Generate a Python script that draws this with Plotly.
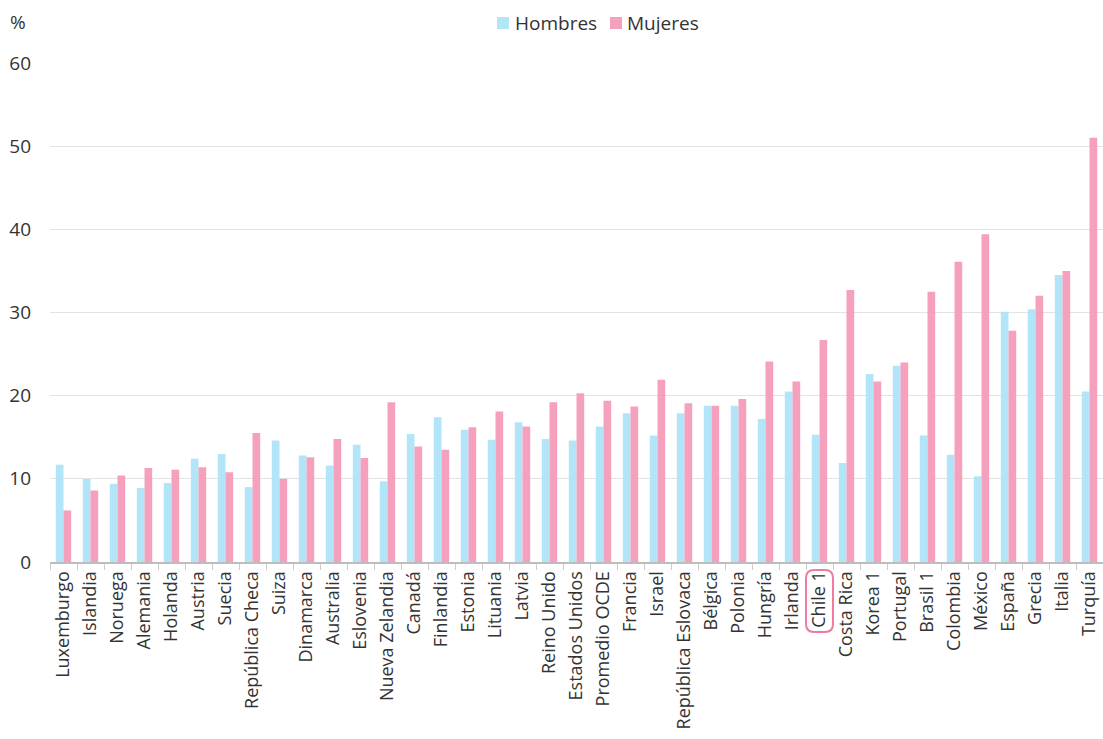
import plotly.graph_objects as go

# Categories along the x axis
countries = [
    "Luxemburgo", "Islandia", "Noruega", "Alemania", "Holanda", "Austria",
    "Suecia", "República Checa", "Suiza", "Dinamarca", "Australia",
    "Eslovenia", "Nueva Zelandia", "Canadá", "Finlandia", "Estonia",
    "Lituania", "Latvia", "Reino Unido", "Estados Unidos", "Promedio OCDE",
    "Francia", "Israel", "República Eslovaca", "Bélgica", "Polonia",
    "Hungría", "Irlanda", "Chile 1", "Costa Rica", "Korea 1", "Portugal",
    "Brasil 1", "Colombia", "México", "España", "Grecia", "Italia", "Turquía",
]

# Percentages per sex
hombres = [
    11.7, 10.0, 9.4, 8.9, 9.5, 12.4, 13.0, 9.0, 14.6, 12.8, 11.6, 14.1, 9.7,
    15.4, 17.4, 15.9, 14.7, 16.8, 14.8, 14.6, 16.3, 17.9, 15.2, 17.9, 18.8,
    18.8, 17.2, 20.5, 15.3, 11.9, 22.6, 23.6, 15.2, 12.9, 10.3, 30.1, 30.4,
    34.5, 20.5,
]
mujeres = [
    6.2, 8.6, 10.4, 11.3, 11.1, 11.4, 10.8, 15.5, 10.0, 12.6, 14.8, 12.5, 19.2,
    13.9, 13.5, 16.2, 18.1, 16.3, 19.2, 20.3, 19.4, 18.7, 21.9, 19.1, 18.8,
    19.6, 24.1, 21.7, 26.7, 32.7, 21.7, 24.0, 32.5, 36.1, 39.4, 27.8, 32.0,
    35.0, 51.0,
]

y_ticks = [0, 10, 20, 30, 40, 50, 60]
highlight = "Chile 1"
series_names = ["Hombres", "Mujeres"]

FONT = "Open Sans"
TEXT = "#333333"
BLUE = "rgba(170,226,247,0.9)"
PINK = "rgba(244,150,182,0.9)"
colors = [BLUE, PINK]

fig = go.Figure()
for name, vals, col in zip(series_names, [hombres, mujeres], colors):
    fig.add_trace(go.Bar(name=name, x=countries, y=vals, marker_color=col,
                         marker_line_width=0, showlegend=False))

n = len(countries)
L, R, T, B = 50, 0, 63, 177
plot_w = 1103 - L - R
plot_h = 739 - T - B


def px_x(px):
    return (px - L) / plot_w


def px_y(py):
    return (739 - B - py) / plot_h


# Compact legend above the plot: coloured square followed by its label
legend_items = [(497, 513), (610, 625)]
for (sq_x, txt_x), name, col in zip(legend_items, series_names, colors):
    fig.add_shape(type="rect", xref="paper", yref="paper",
                  x0=px_x(sq_x), x1=px_x(sq_x + 12),
                  y0=px_y(29), y1=px_y(17),
                  fillcolor=col, line_width=0)
    fig.add_annotation(text=name, xref="paper", yref="paper",
                       x=px_x(txt_x), y=px_y(23), xanchor="left",
                       yanchor="middle", showarrow=False,
                       font=dict(family=FONT, size=19, color=TEXT))

# Rounded outline around the highlighted tick label
i = countries.index(highlight)
cx = (i + 0.5) / n
hw = 13.5 / plot_w
top = -8 / plot_h
bot = -70 / plot_h
rx = 8 / plot_w
ry = 8 / plot_h
x0, x1 = cx - hw, cx + hw
path = (
    f"M {x0 + rx},{top} L {x1 - rx},{top} Q {x1},{top} {x1},{top - ry} "
    f"L {x1},{bot + ry} Q {x1},{bot} {x1 - rx},{bot} "
    f"L {x0 + rx},{bot} Q {x0},{bot} {x0},{bot + ry} "
    f"L {x0},{top - ry} Q {x0},{top} {x0 + rx},{top} Z"
)
fig.add_shape(type="path", path=path, xref="paper", yref="paper",
              line=dict(color="#ef7aa2", width=2), layer="above")

fig.add_annotation(text="%", xref="paper", yref="paper",
                   x=px_x(18), y=px_y(22), xanchor="center",
                   yanchor="middle", showarrow=False,
                   font=dict(family=FONT, size=19, color=TEXT))

fig.update_layout(
    width=1103, height=739,
    margin=dict(l=L, r=R, t=T, b=B),
    paper_bgcolor="white", plot_bgcolor="white",
    barmode="group", bargap=0.43, bargroupgap=0,
    font=dict(family=FONT, color=TEXT),
    showlegend=False,
    xaxis=dict(
        type="category", range=[-0.5, n - 0.5], tickangle=-90,
        showline=True, linecolor="#bdbdbd", linewidth=2,
        ticks="outside", ticklen=6, tickcolor="#cccccc",
        tickson="boundaries",
        tickfont=dict(family=FONT, size=18, color=TEXT),
        showgrid=False,
    ),
    yaxis=dict(
        range=[0, 60], tickvals=y_ticks,
        showgrid=True, gridcolor="#e3e3e3", gridwidth=1,
        zeroline=False, showline=False,
        tickfont=dict(family=FONT, size=19, color=TEXT),
        ticklabelstandoff=18,
    ),
)

fig.write_html("out.html")
